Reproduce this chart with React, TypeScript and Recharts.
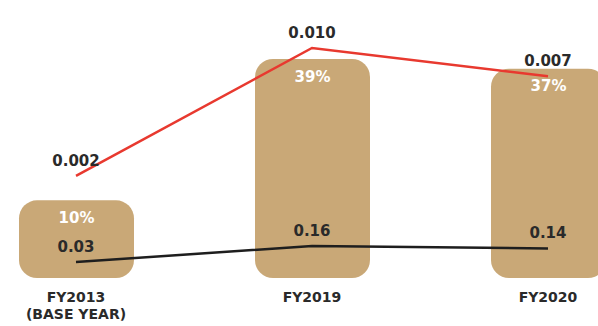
import React from "react";
import { ComposedChart, Bar, Line, XAxis, YAxis, LabelList } from "recharts";

const YEARS = ["FY2013", "FY2019", "FY2020"];
const YEAR_NOTES = ["(BASE YEAR)", "", ""];
const SHARE_PCT = [10, 39, 37];
const RED_VALUES = [0.002, 0.01, 0.007];
const BLACK_VALUES = [0.03, 0.16, 0.14];

const RED_LABELS = ["0.002", "0.010", "0.007"];
const BLACK_LABELS = ["0.03", "0.16", "0.14"];

const BAR_FLOOR = -5.94;
const FONT = "'DejaVu Sans', sans-serif";

const data = YEARS.map((year, i) => ({
  year,
  pct: SHARE_PCT[i],
  range: [BAR_FLOOR, SHARE_PCT[i]],
  red: RED_VALUES[i],
  black: BLACK_VALUES[i],
  redLabel: RED_LABELS[i],
  blackLabel: BLACK_LABELS[i],
}));

function YearTick(props: any) {
  const { x, y, payload, index } = props;
  const note = YEAR_NOTES[index];
  return (
    <g>
      <text x={x} y={y + 16} textAnchor="middle" fill="#2a2a2a" fontSize={14} fontWeight={700} fontFamily={FONT}>
        {payload.value}
      </text>
      {note && (
        <text x={x} y={y + 33} textAnchor="middle" fill="#2a2a2a" fontSize={14} fontWeight={700} fontFamily={FONT}>
          {note}
        </text>
      )}
    </g>
  );
}

export default function App() {
  return (
    <div style={{ position: "absolute", left: 0, top: 0, width: 598, height: 326, overflow: "hidden", background: "#fff" }}>
      <div style={{ position: "absolute", left: -42, top: 0 }}>
        <ComposedChart width={708} height={326} data={data} margin={{ top: 0, right: 0, bottom: 0, left: 0 }}>
          <XAxis dataKey="year" axisLine={false} tickLine={false} height={48} tick={<YearTick />} interval={0} />
          <YAxis yAxisId="bar" hide type="number" domain={[BAR_FLOOR, 51.1]} allowDataOverflow />
          <YAxis yAxisId="red" hide type="number" scale="log" domain={[0.000553, 0.0183]} allowDataOverflow />
          <YAxis yAxisId="black" hide type="number" domain={[-0.1, 2.16]} allowDataOverflow />
          <Bar yAxisId="bar" dataKey="range" barSize={115} fill="#C9A877" radius={[18, 18, 18, 18]} isAnimationActive={false}>
            <LabelList
              dataKey="pct"
              position="insideTop"
              offset={12}
              formatter={(v: any) => `${v}%`}
              fill="#fff"
              fontSize={15}
              fontWeight={700}
              fontFamily={FONT}
            />
          </Bar>
          <Line yAxisId="red" dataKey="red" stroke="#E8392F" strokeWidth={2.5} dot={false} activeDot={false} isAnimationActive={false}>
            <LabelList dataKey="redLabel" position="top" offset={10} fill="#2a2a2a" fontSize={15} fontWeight={700} fontFamily={FONT} />
          </Line>
          <Line yAxisId="black" dataKey="black" stroke="#1E1E1E" strokeWidth={2.5} dot={false} activeDot={false} isAnimationActive={false}>
            <LabelList dataKey="blackLabel" position="top" offset={10} fill="#2a2a2a" fontSize={15} fontWeight={700} fontFamily={FONT} />
          </Line>
        </ComposedChart>
      </div>
    </div>
  );
}
